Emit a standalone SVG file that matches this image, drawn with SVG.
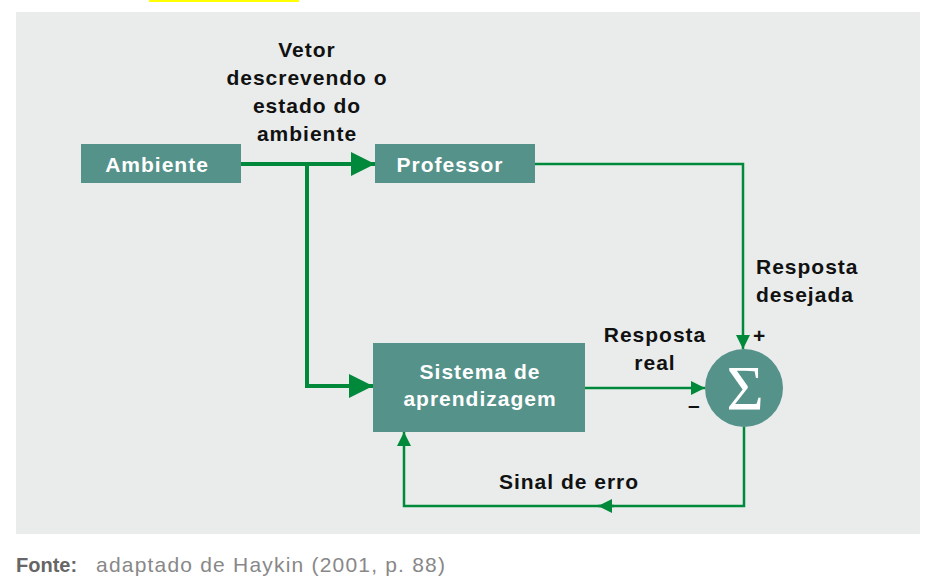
<svg xmlns="http://www.w3.org/2000/svg" width="936" height="584" viewBox="0 0 936 584">
<defs>
<style>
.box{fill:#55928a}
.bt{font-family:"Liberation Sans",Arial,sans-serif;font-weight:bold;font-size:21px;letter-spacing:1px;fill:#fff;text-anchor:middle}
.lt{font-family:"Liberation Sans",Arial,sans-serif;font-weight:bold;font-size:21px;letter-spacing:1px;fill:#111}
.thick{stroke:#00893a;stroke-width:4;fill:none}
.thin{stroke:#00893a;stroke-width:2.5;fill:none}
</style>
<marker id="big" viewBox="0 0 24 24" markerUnits="userSpaceOnUse" markerWidth="24" markerHeight="24" refX="24" refY="12" orient="auto"><path d="M0,0 L24,12 L0,24 Z" fill="#00893a"/></marker>
<marker id="sm" viewBox="0 0 14 14" markerUnits="userSpaceOnUse" markerWidth="14" markerHeight="14" refX="14" refY="7" orient="auto"><path d="M0,0 L14,7 L0,14 Z" fill="#00893a"/></marker>
</defs>
<rect x="149" y="0" width="150" height="2" fill="#ffff00"/>
<rect x="16" y="12" width="904" height="522" fill="#e9eceb"/>
<g id="connectors">
<line class="thick" x1="241" y1="164" x2="375" y2="164" marker-end="url(#big)"/>
<polyline class="thick" points="307,164 307,386 373,386" marker-end="url(#big)"/>
<polyline class="thin" points="535,164 743,164 743,349" marker-end="url(#sm)"/>
<line class="thin" x1="585" y1="388" x2="705" y2="388" marker-end="url(#sm)"/>
<polyline class="thin" points="744,427 744,506 600,506"/>
<line class="thin" x1="614" y1="506" x2="598" y2="506" marker-end="url(#sm)"/>
<polyline class="thin" points="600,506 404,506 404,432" marker-end="url(#sm)"/>
</g>
<g id="ambiente"><rect class="box" x="81" y="144" width="160" height="39"/><text class="bt" x="157" y="172">Ambiente</text></g>
<g id="professor"><rect class="box" x="375" y="144" width="160" height="39"/><text class="bt" x="450" y="172">Professor</text></g>
<g id="sistema"><rect class="box" x="373" y="343" width="212" height="89"/><text class="bt" x="480" y="379">Sistema de</text><text class="bt" x="480" y="406">aprendizagem</text></g>
<g id="soma"><circle cx="744" cy="388" r="39" fill="#55928a"/><text x="745" y="410" font-family="'Liberation Serif','Times New Roman',serif" font-size="64" fill="#fff" text-anchor="middle">Σ</text></g>
<g id="labels">
<text class="lt" text-anchor="middle" x="307" y="57">Vetor</text>
<text class="lt" text-anchor="middle" x="307" y="85">descrevendo o</text>
<text class="lt" text-anchor="middle" x="307" y="113">estado do</text>
<text class="lt" text-anchor="middle" x="307" y="141">ambiente</text>
<text class="lt" x="756" y="274">Resposta</text>
<text class="lt" x="756" y="302">desejada</text>
<text class="lt" text-anchor="middle" x="655" y="342">Resposta</text>
<text class="lt" text-anchor="middle" x="655" y="370">real</text>
<text class="lt" text-anchor="middle" x="569" y="489">Sinal de erro</text>
<text class="lt" x="753" y="343" font-size="18">+</text>
<text class="lt" x="688" y="412" font-size="18">–</text>
</g>
<text x="16" y="572" font-family="'Liberation Sans',Arial,sans-serif" font-weight="bold" font-size="20" fill="#666">Fonte:</text>
<text x="96" y="572" font-family="'Liberation Sans',Arial,sans-serif" font-size="21" letter-spacing="1.2" fill="#888">adaptado de Haykin (2001, p. 88)</text>
</svg>
